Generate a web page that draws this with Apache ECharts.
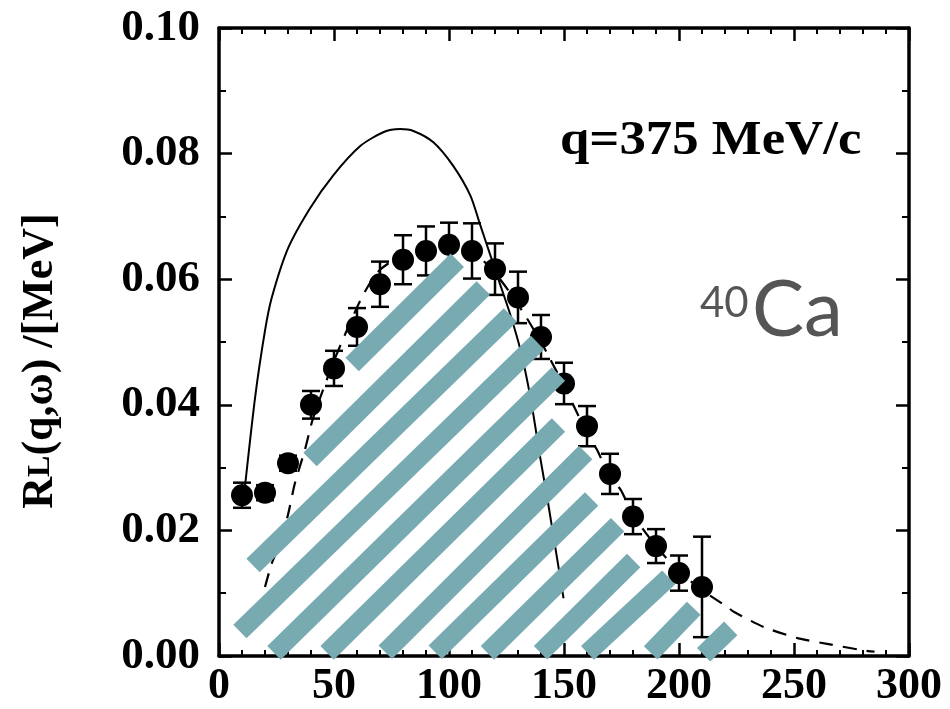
<!DOCTYPE html>
<html>
<head>
<meta charset="utf-8">
<script src="https://cdn.jsdelivr.net/npm/echarts@6/dist/echarts.min.js"></script>
<style>html,body{margin:0;padding:0;background:#fff;}#c{width:950px;height:709px;}</style>
</head>
<body>
<div id="c"></div>
<script>
// Data points (omega in MeV, R_L in 1/MeV) with error bars
const omega = [10,20,30,40,50,60,70,80,90,100,110,120,130,140,150,160,170,180,190,200,210];
const rl    = [0.0256,0.0260,0.0307,0.0400,0.0458,0.0524,0.0592,0.0631,0.0645,0.0655,0.0645,0.0616,0.0571,0.0508,0.0434,0.0366,0.0290,0.0222,0.0175,0.0132,0.0110];
const rlErr = [0.0020,0.0012,0.0012,0.0022,0.0028,0.0030,0.0036,0.0039,0.0039,0.0035,0.0044,0.0041,0.0041,0.0035,0.0033,0.0032,0.0032,0.0028,0.0027,0.0028,0.0080];

// Solid theory curve
const solidX = [11,15.7,20.0,22.9,30.0,39.6,49.6,61.4,71.4,78.8,84.5,93.2,101.9,109.3,113.6,118.0,122.3,126.7,131.1,135.4,139.8,142.8,146.3,149.8];
const solidY = [0.026,0.0412,0.0518,0.0570,0.0649,0.0713,0.0765,0.0812,0.0834,0.0839,0.0836,0.0818,0.0780,0.0733,0.0686,0.0638,0.0591,0.0543,0.0487,0.0412,0.0313,0.0250,0.0171,0.0092];

// Dashed theory curve
const dashX = [20,23,26.6,30,33,37.4,41,50,60,65,70,80,90,100,110,120,130,140,150,160,164.4,170,174.6,180,190,200,210,221,224,237,252,265,280,285];
const dashY = [0.011,0.0148,0.018,0.0225,0.0275,0.0329,0.038,0.047,0.0555,0.059,0.0615,0.064,0.0655,0.066,0.0645,0.061,0.056,0.050,0.043,0.0355,0.0328,0.0285,0.0265,0.0225,0.0175,0.0135,0.0105,0.0078,0.0070,0.0046,0.0028,0.0019,0.0009,0.0007];

// Hatch stripes: [x1, y1, x2, y2] in data units
const stripes = [
  [57.9,0.0464,103.6,0.0630],
  [39.6,0.0313,114.9,0.0586],
  [14.8,0.0144,126.7,0.0543],
  [9.1,0.0039,138.5,0.0499],
  [23.9,0.0005,147.6,0.0449],
  [47.0,0.0005,147.6,0.0368],
  [72.3,0.0006,159.4,0.0324],
  [94.0,0.0006,162.0,0.0250],
  [116.7,0.0005,173.3,0.0209],
  [139.8,0.0005,180.3,0.0152],
  [160.2,0.0005,195.5,0.0125],
  [187.7,0.0005,206.4,0.0076],
  [210.7,0.0002,222.5,0.0044]
];

const xMin = 0, xMax = 300, xStep = 50;
const yMin = 0, yMax = 0.10, yStep = 0.02;

const serif = '"Liberation Serif", "Times New Roman", serif';
const teal = '#78aab2';

const chart = echarts.init(document.getElementById('c'), null, {renderer: 'canvas'});

const axisCommon = {
  axisLine: {show: true, onZero: false, lineStyle: {color: '#000', width: 3.5}},
  axisTick: {show: true, inside: true, length: 13, lineStyle: {color: '#000', width: 2.5}},
  splitLine: {show: false},
  minorSplitLine: {show: false}
};
const xMinor = {minorTick: {show: true, splitNumber: 5, length: 6, lineStyle: {color: '#000', width: 2}}};
const yMinor = {minorTick: {show: true, splitNumber: 2, length: 7, lineStyle: {color: '#000', width: 2}}};

const option = {
  backgroundColor: '#fff',
  animation: false,
  grid: {left: 219, right: 41, top: 28, bottom: 48},
  xAxis: [
    Object.assign({
      type: 'value', min: xMin, max: xMax, interval: xStep, position: 'bottom',
      axisLabel: {show: true, color: '#000', fontFamily: serif, fontWeight: 'bold', fontSize: 44, margin: 9}
    }, axisCommon, xMinor),
    Object.assign({
      type: 'value', min: xMin, max: xMax, interval: xStep, position: 'top',
      axisLabel: {show: false}
    }, axisCommon, xMinor)
  ],
  yAxis: [
    Object.assign({
      type: 'value', min: yMin, max: yMax, interval: yStep, position: 'left',
      axisLabel: {show: true, color: '#000', fontFamily: serif, fontWeight: 'bold', fontSize: 45, margin: 19,
        formatter: v => v.toFixed(2)}
    }, axisCommon, yMinor),
    Object.assign({
      type: 'value', min: yMin, max: yMax, interval: yStep, position: 'right',
      axisLabel: {show: false}
    }, axisCommon, yMinor)
  ],
  series: [
    {
      type: 'line', name: 'solid', xAxisIndex: 0, yAxisIndex: 0,
      data: solidX.map((x, i) => [x, solidY[i]]),
      showSymbol: false, smooth: 0.25, z: 2,
      lineStyle: {color: '#000', width: 2}
    },
    {
      type: 'line', name: 'dashed', xAxisIndex: 0, yAxisIndex: 0,
      data: dashX.map((x, i) => [x, dashY[i]]),
      showSymbol: false, smooth: 0.25, z: 2,
      lineStyle: {color: '#000', width: 2.2, type: [14, 10]}
    },
    {
      type: 'custom', name: 'errors', xAxisIndex: 0, yAxisIndex: 0, z: 3,
      data: omega.map((x, i) => [x, rl[i], rlErr[i]]),
      renderItem: function (params, api) {
        const x = api.value(0), y = api.value(1), e = api.value(2);
        const lo = api.coord([x, y - e]);
        const hi = api.coord([x, y + e]);
        const hw = 9;
        const st = {stroke: '#000', lineWidth: 2.5};
        return {
          type: 'group',
          children: [
            {type: 'line', shape: {x1: lo[0], y1: lo[1], x2: hi[0], y2: hi[1]}, style: st},
            {type: 'line', shape: {x1: lo[0] - hw, y1: lo[1], x2: lo[0] + hw, y2: lo[1]}, style: st},
            {type: 'line', shape: {x1: hi[0] - hw, y1: hi[1], x2: hi[0] + hw, y2: hi[1]}, style: st}
          ]
        };
      }
    },
    {
      type: 'scatter', name: 'data', xAxisIndex: 0, yAxisIndex: 0, z: 4,
      data: omega.map((x, i) => [x, rl[i]]),
      symbol: 'circle', symbolSize: 22,
      itemStyle: {color: '#000', opacity: 1}
    },
    {
      type: 'custom', name: 'hatch', xAxisIndex: 0, yAxisIndex: 0, z: 5,
      data: stripes,
      renderItem: function (params, api) {
        const p1 = api.coord([api.value(0), api.value(1)]);
        const p2 = api.coord([api.value(2), api.value(3)]);
        return {
          type: 'line',
          shape: {x1: p1[0], y1: p1[1], x2: p2[0], y2: p2[1]},
          style: {stroke: teal, lineWidth: 19, lineCap: 'butt'}
        };
      }
    }
  ],
  graphic: [
    {
      type: 'text', x: 41, y: 361, rotation: Math.PI / 2, z: 10,
      style: {
        text: '{a|R}{b|L}{a|(q,ω) /[MeV]}',
        textAlign: 'center', textVerticalAlign: 'middle',
        rich: {
          a: {fontFamily: serif, fontWeight: 'bold', fontSize: 44, fill: '#000'},
          b: {fontFamily: serif, fontWeight: 'bold', fontSize: 32, fill: '#000'}
        }
      }
    },
    {
      type: 'text', x: 560, y: 142, scaleX: 1.1, z: 10,
      style: {text: 'q=375 MeV/c', fill: '#000', font: 'bold 48px ' + serif, textVerticalAlign: 'middle', textAlign: 'left'}
    },
    {
      type: 'text', x: 700, y: 303, z: 10,
      style: {text: '40', fill: '#555', font: '42px Lato, "Open Sans", sans-serif', textVerticalAlign: 'middle', textAlign: 'left'}
    },
    {
      type: 'text', x: 752, y: 311, z: 10,
      style: {text: 'Ca', fill: '#555', font: '78px Lato, "Open Sans", sans-serif', textVerticalAlign: 'middle', textAlign: 'left'}
    }
  ]
};

chart.setOption(option);
</script>
</body>
</html>
